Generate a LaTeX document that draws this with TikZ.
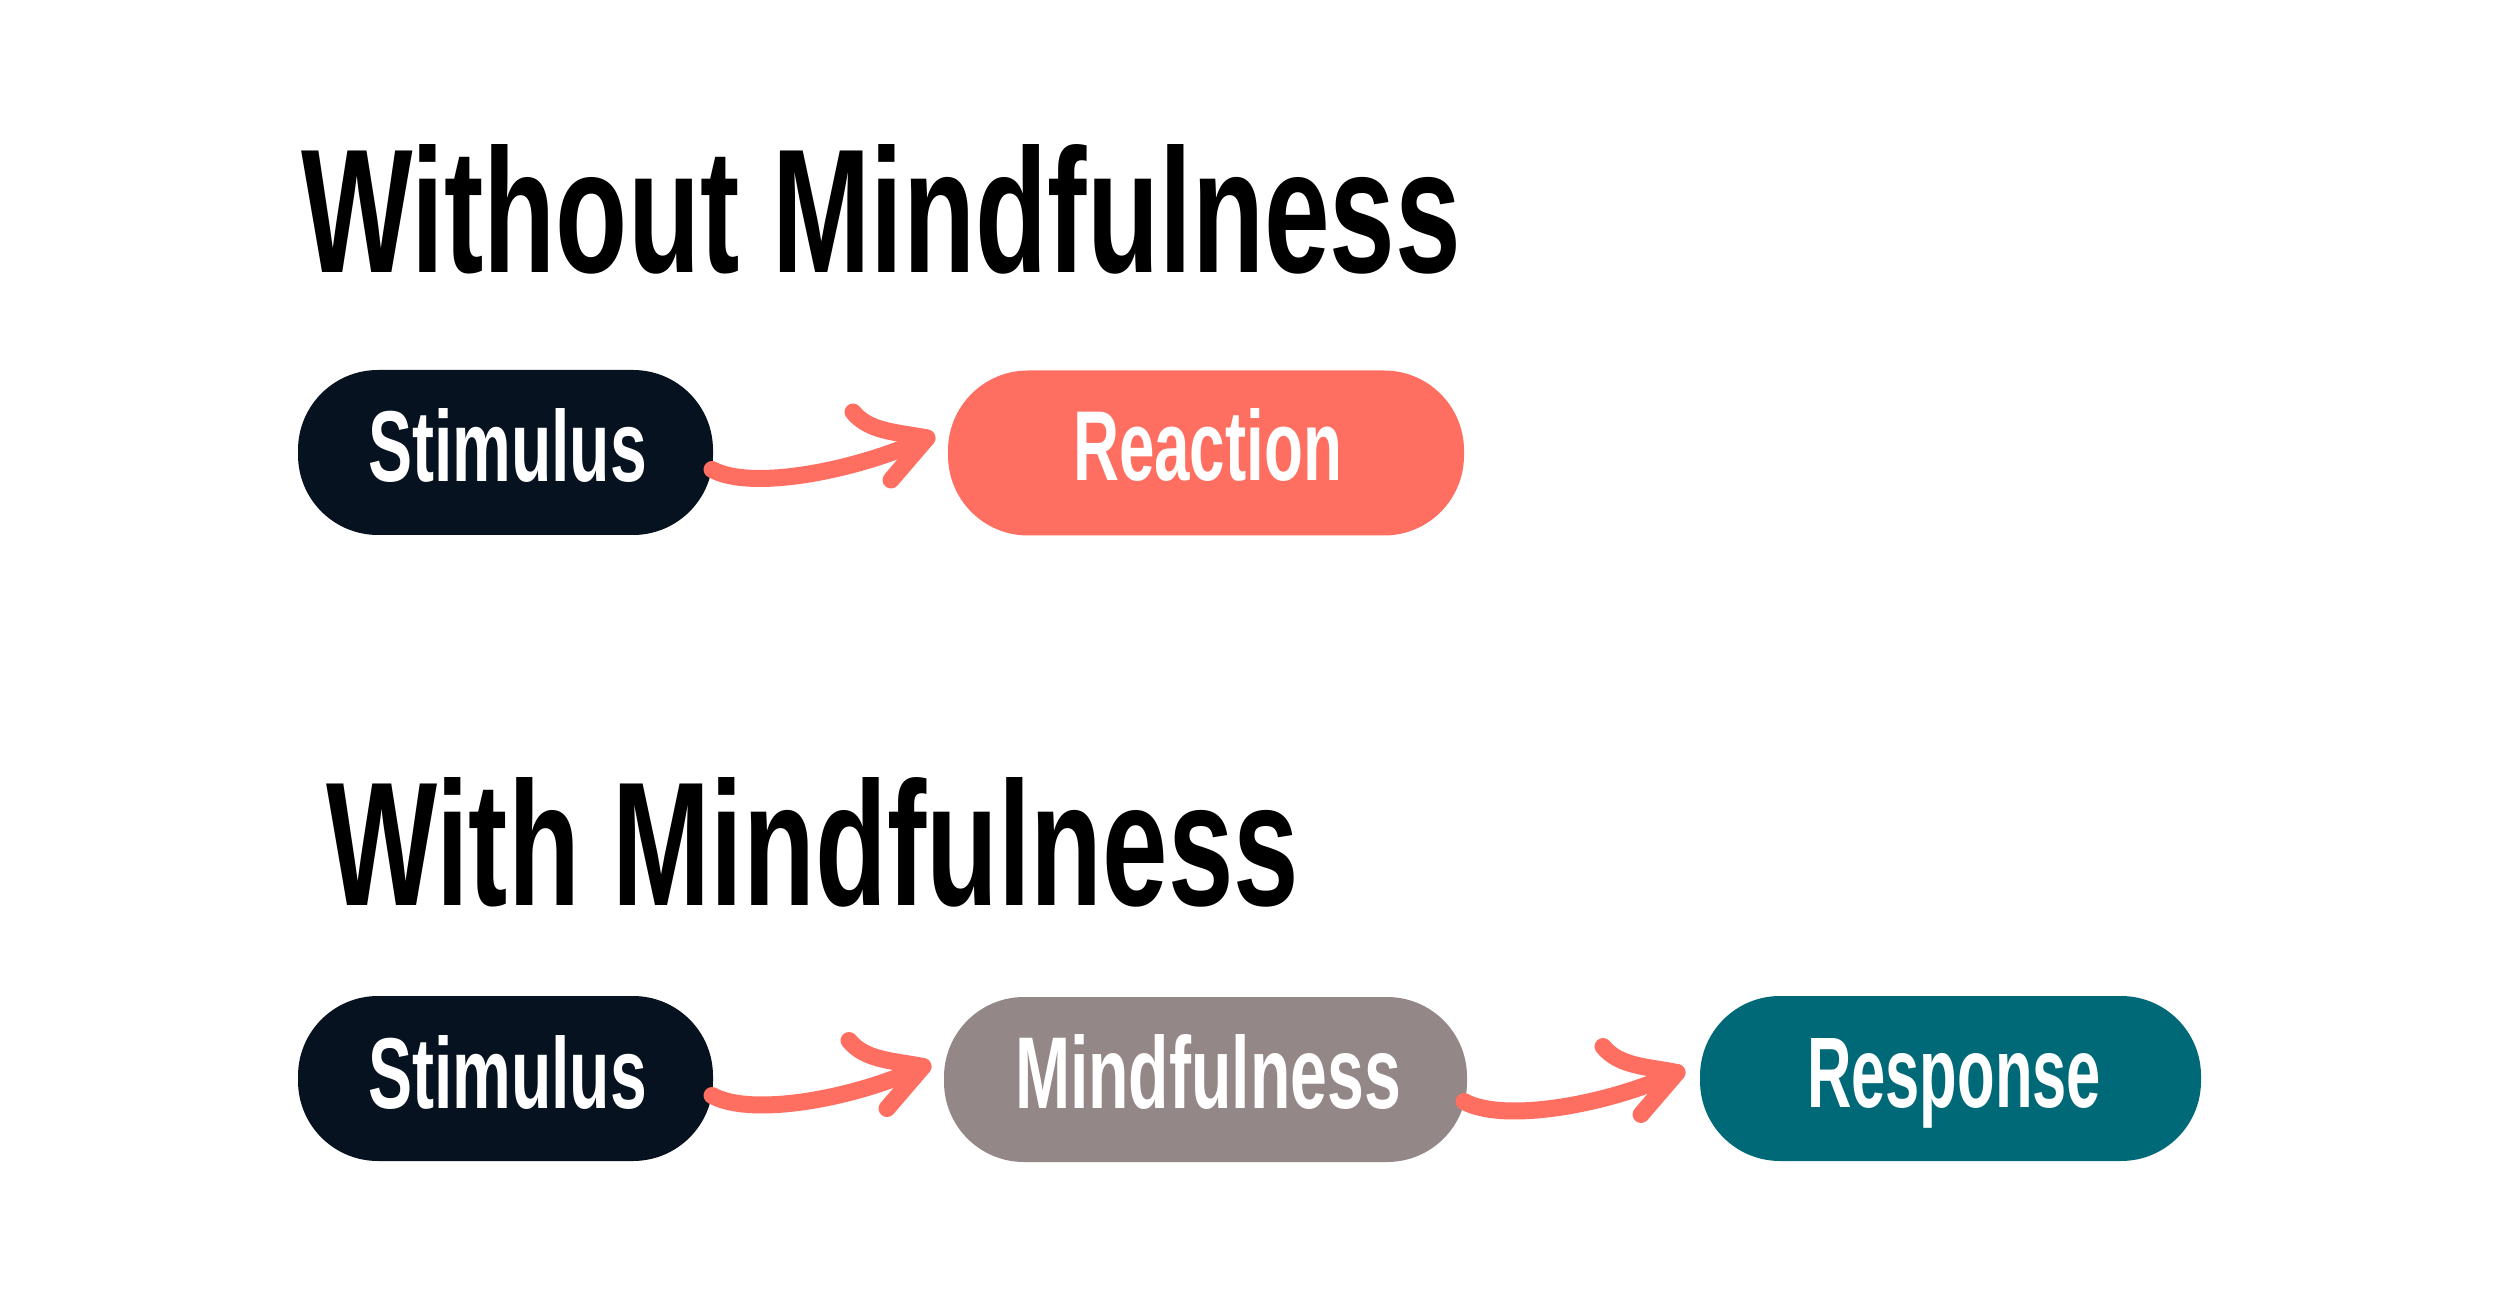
\documentclass[tikz,border=0pt]{standalone}
\usepackage{fontspec}
\setmainfont{Liberation Sans}
\usetikzlibrary{calc}
\definecolor{navy}{HTML}{06121F}
\definecolor{salmon}{HTML}{FF6F61}
\definecolor{stone}{HTML}{948787}
\definecolor{tealbox}{HTML}{006978}
\newlength\pxu \setlength\pxu{0.2pt}
\newcommand\fitbox[3]{\resizebox{#1\pxu}{#2\pxu}{\bfseries #3}}
\newcommand\brusharrow[2]{%
  \draw[brush] (#1) .. controls +(40,22) and +(-68,32) .. (#2);
  \draw[brush] ($(#2)+(-74,-26)$) .. controls ($(#2)+(-58,-6)$) and ($(#2)+(-30,-6)$) .. (#2) -- ($(#2)+(-36,42)$);
}
\begin{document}
\begin{tikzpicture}[x=0.2pt,y=-0.2pt,
  pill/.style={rounded corners=80\pxu, minimum height=165\pxu, inner sep=0pt, draw=none},
  lbl/.style={inner sep=0pt, anchor=base west, text=white},
  ttl/.style={inner sep=0pt, anchor=base west, text=black},
  brush/.style={draw=salmon, line width=17\pxu, line cap=round, line join=round}]
\useasboundingbox (0,0) rectangle (2500,1316);
\fill[white] (0,0) rectangle (2500,1316);

% Row 1
\node[ttl] (t1) at (300,273) {\fitbox{1160}{128}{Without Mindfulness}};
\node[pill, fill=navy, minimum width=415\pxu] (s1) at (505.5,452.5) {};
\node[lbl] (s1t) at (367,482) {\fitbox{279}{73}{Stimulus}};
\node[pill, fill=salmon, minimum width=516\pxu] (r1) at (1206,453) {};
\node[lbl] (r1t) at (1072,481) {\fitbox{269}{72}{Reaction}};
\coordinate (a1s) at ($(s1.east)+(-2,17)$);
\coordinate (a1t) at ($(r1.west)+(-20,-15)$);
\brusharrow{a1s}{a1t}

% Row 2
\node[ttl] (t2) at (325,905) {\fitbox{973}{128}{With Mindfulness}};
\node[pill, fill=navy, minimum width=415\pxu] (s2) at (505.5,1078.5) {};
\node[lbl] (s2t) at (367,1108) {\fitbox{279}{73}{Stimulus}};
\node[pill, fill=stone, minimum width=523\pxu] (m2) at (1205.5,1079.5) {};
\node[lbl] (m2t) at (1014,1108) {\fitbox{386}{74}{Mindfulness}};
\node[pill, fill=tealbox, minimum width=501\pxu] (p2) at (1950.5,1078.5) {};
\node[lbl] (p2t) at (1806,1107) {\fitbox{294}{69}{Response}};
\coordinate (a2s) at ($(s2.east)+(-2,17)$);
\coordinate (a2t) at ($(m2.west)+(-20,-13)$);
\brusharrow{a2s}{a2t}
\coordinate (a3s) at ($(m2.east)+(-4,22)$);
\coordinate (a3t) at ($(p2.west)+(-22,-6)$);
\brusharrow{a3s}{a3t}
\end{tikzpicture}
\end{document}
